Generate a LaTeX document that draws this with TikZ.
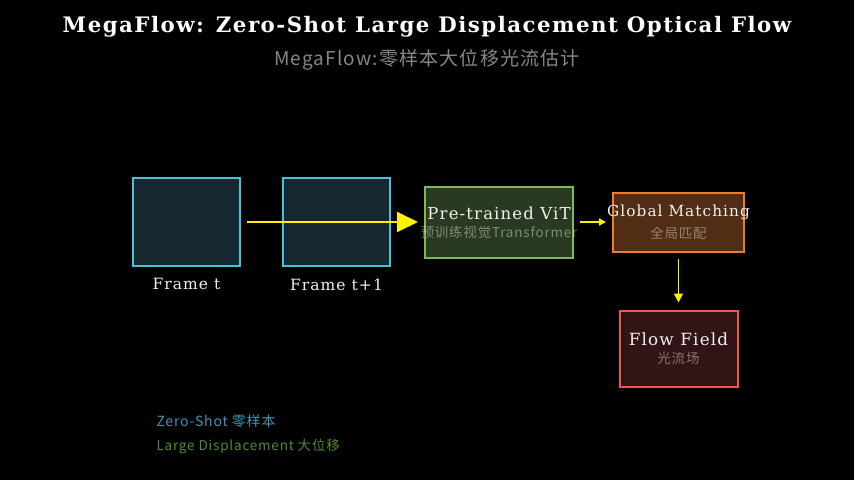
\documentclass[tikz,border=0pt]{standalone}
\usepackage{fontspec}
\setmainfont{DejaVu Serif}[LetterSpace=7]
\newfontfamily\cjk{Noto Sans CJK SC}[LetterSpace=6]
\usetikzlibrary{positioning, arrows.meta}
\definecolor{frame_edge}{RGB}{80,190,215}
\definecolor{frame_fill}{RGB}{21,40,48}
\definecolor{vit_edge}{RGB}{125,185,85}
\definecolor{vit_fill}{RGB}{42,58,32}
\definecolor{match_edge}{RGB}{240,125,45}
\definecolor{match_fill}{RGB}{80,45,20}
\definecolor{flow_edge}{RGB}{230,90,80}
\definecolor{flow_fill}{RGB}{50,20,22}
\definecolor{sub_gray}{RGB}{135,135,135}
\definecolor{legend_cyan}{RGB}{60,150,180}
\definecolor{legend_green}{RGB}{80,140,50}
\tikzset{
  box/.style={rectangle, line width=2pt, inner sep=0pt},
  box_title/.style={font=\fontsize{16.5}{18}\selectfont, text=white!94!black},
  box_sub/.style={font=\cjk\fontsize{13.5}{15}\selectfont, text=white, text opacity=0.4},
  flow_arrow/.style={draw=yellow, line width=1.5pt, -{Triangle[length=9pt, width=9pt]}},
}
\begin{document}
\begin{tikzpicture}[x=1pt, y=-1pt]
  \fill[black] (0,0) rectangle (854,480);
  \node[font=\fontsize{21.3}{24}\selectfont\bfseries, text=white] (title) at (427,27) {MegaFlow: Zero-Shot Large Displacement Optical Flow};
  \node[font=\cjk\fontsize{19}{22}\selectfont, text=sub_gray] (subtitle) at (427,60) {MegaFlow:零样本大位移光流估计};
\node[box, draw=frame_edge, fill=frame_fill, minimum width=107pt, minimum height=88pt] (frame_t) at (186.5,222) {};
\node[box, draw=frame_edge, fill=frame_fill, minimum width=107pt, minimum height=88pt, right=41pt of frame_t] (frame_t1) {};
\node[box_title, font=\fontsize{15.5}{17}\selectfont, below=8pt of frame_t] (frame_t_label) {Frame t};
\node[box_title, font=\fontsize{15.5}{17}\selectfont, below=8pt of frame_t1] (frame_t1_label) {Frame t+1};
\node[box, draw=vit_edge, fill=vit_fill, minimum width=148pt, minimum height=71pt, right=33pt of frame_t1] (vit) {};
\node[box_title] (vit_title) at ([yshift=8.5pt]vit.center) {Pre-trained ViT};
\node[box_sub] (vit_sub) at ([yshift=-10.5pt]vit.center) {预训练视觉Transformer};
\node[box, draw=match_edge, fill=match_fill, minimum width=131pt, minimum height=59pt, right=38pt of vit] (matching) {};
\node[box_title, font=\fontsize{15.3}{17}\selectfont] (matching_title) at ([yshift=9.5pt]matching.center) {Global Matching};
\node[box_sub] (matching_sub) at ([yshift=-11.5pt]matching.center) {全局匹配};
\node[box, draw=flow_edge, fill=flow_fill, minimum width=118pt, minimum height=76pt, below=57pt of matching] (flow) {};
\node[box_title, font=\fontsize{16.8}{19}\selectfont] (flow_title) at ([yshift=9pt]flow.center) {Flow Field};
\node[box_sub] (flow_sub) at ([yshift=-10pt]flow.center) {光流场};
\path
	(frame_t.east) edge [draw=yellow, line width=2pt, -{Triangle[length=21pt, width=20pt]}, shorten <=6pt, shorten >=6pt] (vit.west)
	(vit.east) edge [flow_arrow, -{Triangle[length=7pt, width=7pt]}, shorten <=6pt, shorten >=6pt] (matching.west)
	(matching.south) edge [flow_arrow, shorten <=6pt, shorten >=7pt] (flow.north)
;
\node[anchor=west, font=\cjk\fontsize{14}{16}\selectfont, text=legend_cyan] (legend_zero) at (153,421) {Zero-Shot 零样本};
\node[anchor=west, font=\cjk\fontsize{13.5}{16}\selectfont, text=legend_green] (legend_large) at (153,446) {Large Displacement 大位移};
\end{tikzpicture}
\end{document}
